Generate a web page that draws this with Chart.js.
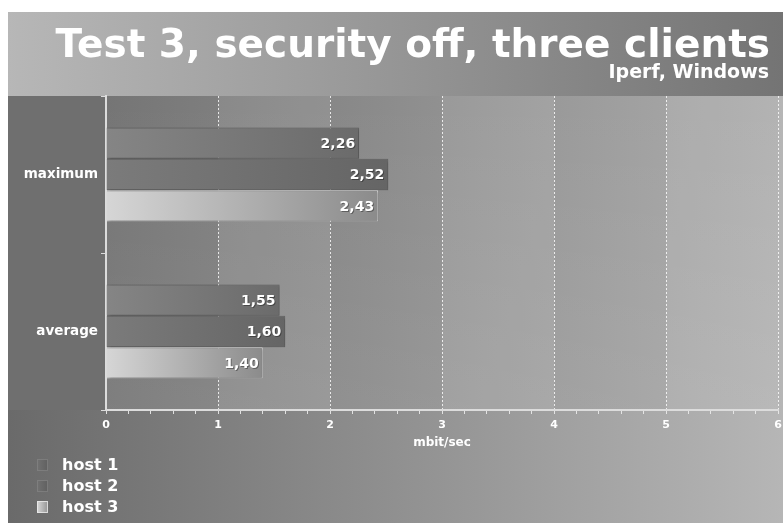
<!DOCTYPE html>
<html><head><meta charset="utf-8">
<style>html,body{margin:0;padding:0;background:#fff;}</style>
<script src="https://cdn.jsdelivr.net/npm/chart.js@4/dist/chart.umd.min.js"></script>
</head><body>
<canvas id="c" width="783" height="523" style="display:block;width:783px;height:523px"></canvas>
<script>
const categories = ['maximum', 'average'];
const seriesNames = ['host 1', 'host 2', 'host 3'];
const host1 = [2.26, 1.55];
const host2 = [2.52, 1.60];
const host3 = [2.43, 1.40];
const chartTitle = 'Test 3, security off, three clients';
const chartSubtitle = 'Iperf, Windows';
const axisTitle = 'mbit/sec';
const xMin = 0, xMax = 6;

const FONT = "'DejaVu Sans', Verdana, sans-serif";
const barStyles = [
  {from:'#858585', to:'#6b6b6b', border:'rgba(95,95,95,0.7)'},
  {from:'#7b7b7b', to:'#656565', border:'rgba(85,85,85,0.7)'},
  {from:'#d6d6d6', to:'#8b8b8b', border:'rgba(240,240,240,0.95)'}
];

function barFill(idx){
  return (ctx) => {
    const chart = ctx.chart, area = chart.chartArea, st = barStyles[idx];
    if (!area || ctx.raw == null || !chart.scales.x) return st.to;
    const xs = chart.scales.x;
    const x0 = xs.getPixelForValue(0), x1 = xs.getPixelForValue(ctx.raw);
    const g = chart.ctx.createLinearGradient(x0, 0, Math.max(x1, x0 + 1), 0);
    g.addColorStop(0, st.from); g.addColorStop(1, st.to);
    return g;
  };
}

const bgPlugin = {
  id: 'bg',
  beforeDraw(chart) {
    const {ctx, chartArea: a, width, height} = chart;
    const xs = chart.scales.x;
    const L = 8, T = 12;
    ctx.save();
    ctx.fillStyle = '#ffffff'; ctx.fillRect(0, 0, width, height);
    let g = ctx.createLinearGradient(L, 0, width, 0);
    g.addColorStop(0, '#6a6a6a'); g.addColorStop(1, '#b6b6b6');
    ctx.fillStyle = g; ctx.fillRect(L, T, width - L, height - T);
    g = ctx.createLinearGradient(L, 0, width, 0);
    g.addColorStop(0, '#b7b7b7'); g.addColorStop(1, '#747474');
    ctx.fillStyle = g; ctx.fillRect(L, T, width - L, a.top - T);
    ctx.fillStyle = '#6f6f6f'; ctx.fillRect(L, a.top, a.left - L, a.bottom - a.top);
    g = ctx.createLinearGradient(a.left, 0, a.right, 0);
    g.addColorStop(0, '#757575'); g.addColorStop(1, '#acacac');
    ctx.fillStyle = g; ctx.fillRect(a.left, a.top, a.right - a.left, a.bottom - a.top);
    g = ctx.createLinearGradient(0, a.top, 0, a.bottom);
    g.addColorStop(0, 'rgba(255,255,255,0)'); g.addColorStop(1, 'rgba(255,255,255,0.07)');
    ctx.fillStyle = g; ctx.fillRect(a.left, a.top, a.right - a.left, a.bottom - a.top);
    for (let v = xMin + 1; v < xMax; v += 2) {
      const x0 = xs.getPixelForValue(v), x1 = xs.getPixelForValue(v + 1);
      ctx.fillStyle = 'rgba(255,255,255,0.09)';
      ctx.fillRect(x0, a.top, x1 - x0, a.bottom - a.top);
    }
    // header text
    ctx.fillStyle = '#ffffff';
    ctx.textAlign = 'right'; ctx.textBaseline = 'alphabetic';
    ctx.font = "bold 39px " + FONT;
    ctx.fillText(chartTitle, 770, 57);
    ctx.font = "bold 19px " + FONT;
    ctx.fillText(chartSubtitle, 769, 78);
    ctx.restore();
  }
};

const shadowPlugin = {
  id: 'barShadow',
  beforeDatasetsDraw(chart) {
    const ctx = chart.ctx; ctx.save();
    ctx.shadowColor = 'rgba(0,0,0,0.28)'; ctx.shadowBlur = 3; ctx.shadowOffsetX = 2; ctx.shadowOffsetY = 1;
  },
  afterDatasetsDraw(chart) {
    const ctx = chart.ctx; ctx.restore();
    ctx.save();
    ctx.font = "bold 14px " + FONT;
    ctx.textAlign = 'right'; ctx.textBaseline = 'middle';
    chart.data.datasets.forEach((ds, i) => {
      const meta = chart.getDatasetMeta(i);
      meta.data.forEach((el, j) => {
        const v = ds.data[j];
        const txt = v.toFixed(2).replace('.', ',');
        ctx.fillStyle = 'rgba(0,0,0,0.35)';
        ctx.fillText(txt, el.x - 4 + 1, el.y + 1 + 1);
        ctx.fillStyle = '#ffffff';
        ctx.fillText(txt, el.x - 4, el.y + 1);
      });
    });
    ctx.restore();
  }
};

const legendPlugin = {
  id: 'customLegend',
  afterDraw(chart) {
    const ctx = chart.ctx;
    ctx.save();
    chart.data.datasets.forEach((ds, i) => {
      const cy = 465 + i * 21;
      const g = ctx.createLinearGradient(37, 0, 49, 0);
      g.addColorStop(0, i === 2 ? '#d8d8d8' : '#727272');
      g.addColorStop(1, i === 2 ? '#8e8e8e' : '#5e5e5e');
      ctx.fillStyle = g; ctx.fillRect(37, cy - 6, 11, 12);
      ctx.strokeStyle = i === 2 ? 'rgba(235,235,235,0.8)' : 'rgba(130,130,130,0.8)';
      ctx.lineWidth = 1; ctx.strokeRect(37.5, cy - 5.5, 10, 11);
      ctx.fillStyle = '#ffffff';
      ctx.font = "bold 16px " + FONT;
      ctx.textAlign = 'left'; ctx.textBaseline = 'middle';
      ctx.fillText(ds.label, 62, cy + 1);
    });
    ctx.restore();
  }
};

const isInt = (v) => Math.abs(v - Math.round(v)) < 1e-6;

new Chart(document.getElementById('c'), {
  type: 'bar',
  data: {
    labels: categories,
    datasets: [host1, host2, host3].map((d, i) => ({
      label: seriesNames[i],
      data: d,
      backgroundColor: barFill(i),
      borderColor: barStyles[i].border,
      borderWidth: {top: 1, right: 1, bottom: 1, left: 0},
      borderSkipped: 'start'
    }))
  },
  options: {
    indexAxis: 'y',
    responsive: false,
    animation: false,
    devicePixelRatio: 1,
    layout: {padding: {left: 8, right: 5, top: 96, bottom: 73}},
    plugins: {legend: {display: false}, title: {display: false}, tooltip: {enabled: false}},
    datasets: {bar: {categoryPercentage: 0.6, barPercentage: 1}},
    scales: {
      x: {
        type: 'linear', min: xMin, max: xMax, position: 'bottom',
        ticks: {
          stepSize: 0.2, autoSkip: false, maxRotation: 0, minRotation: 0,
          color: '#ffffff', font: {family: FONT, weight: 'bold', size: 11}, padding: 5,
          callback: (v) => isInt(v) ? String(Math.round(v)) : ''
        },
        grid: {
          color: (c) => (c.tick && isInt(c.tick.value)) ? 'rgba(255,255,255,0.8)' : 'rgba(0,0,0,0)',
          lineWidth: 1, tickColor: 'rgba(235,235,235,0.9)', tickLength: 4, drawTicks: true
        },
        border: {display: true, color: '#dcdcdc', width: 2, dash: [2, 2]},
        title: {display: true, text: axisTitle, color: '#ffffff', font: {family: FONT, weight: 'bold', size: 12}, padding: {top: 2, bottom: 0}},
        afterFit: (s) => { s.height = 40; s.paddingLeft = 0; s.paddingRight = 0; }
      },
      y: {
        ticks: {color: '#ffffff', font: {family: FONT, weight: 'bold', size: 13.5}, padding: 3},
        grid: {drawOnChartArea: false, color: '#dcdcdc', tickColor: '#dcdcdc', tickLength: 5},
        border: {color: '#dcdcdc', width: 2},
        afterFit: (s) => { s.width = 98; }
      }
    }
  },
  plugins: [bgPlugin, shadowPlugin, legendPlugin]
});
</script>
</body></html>
